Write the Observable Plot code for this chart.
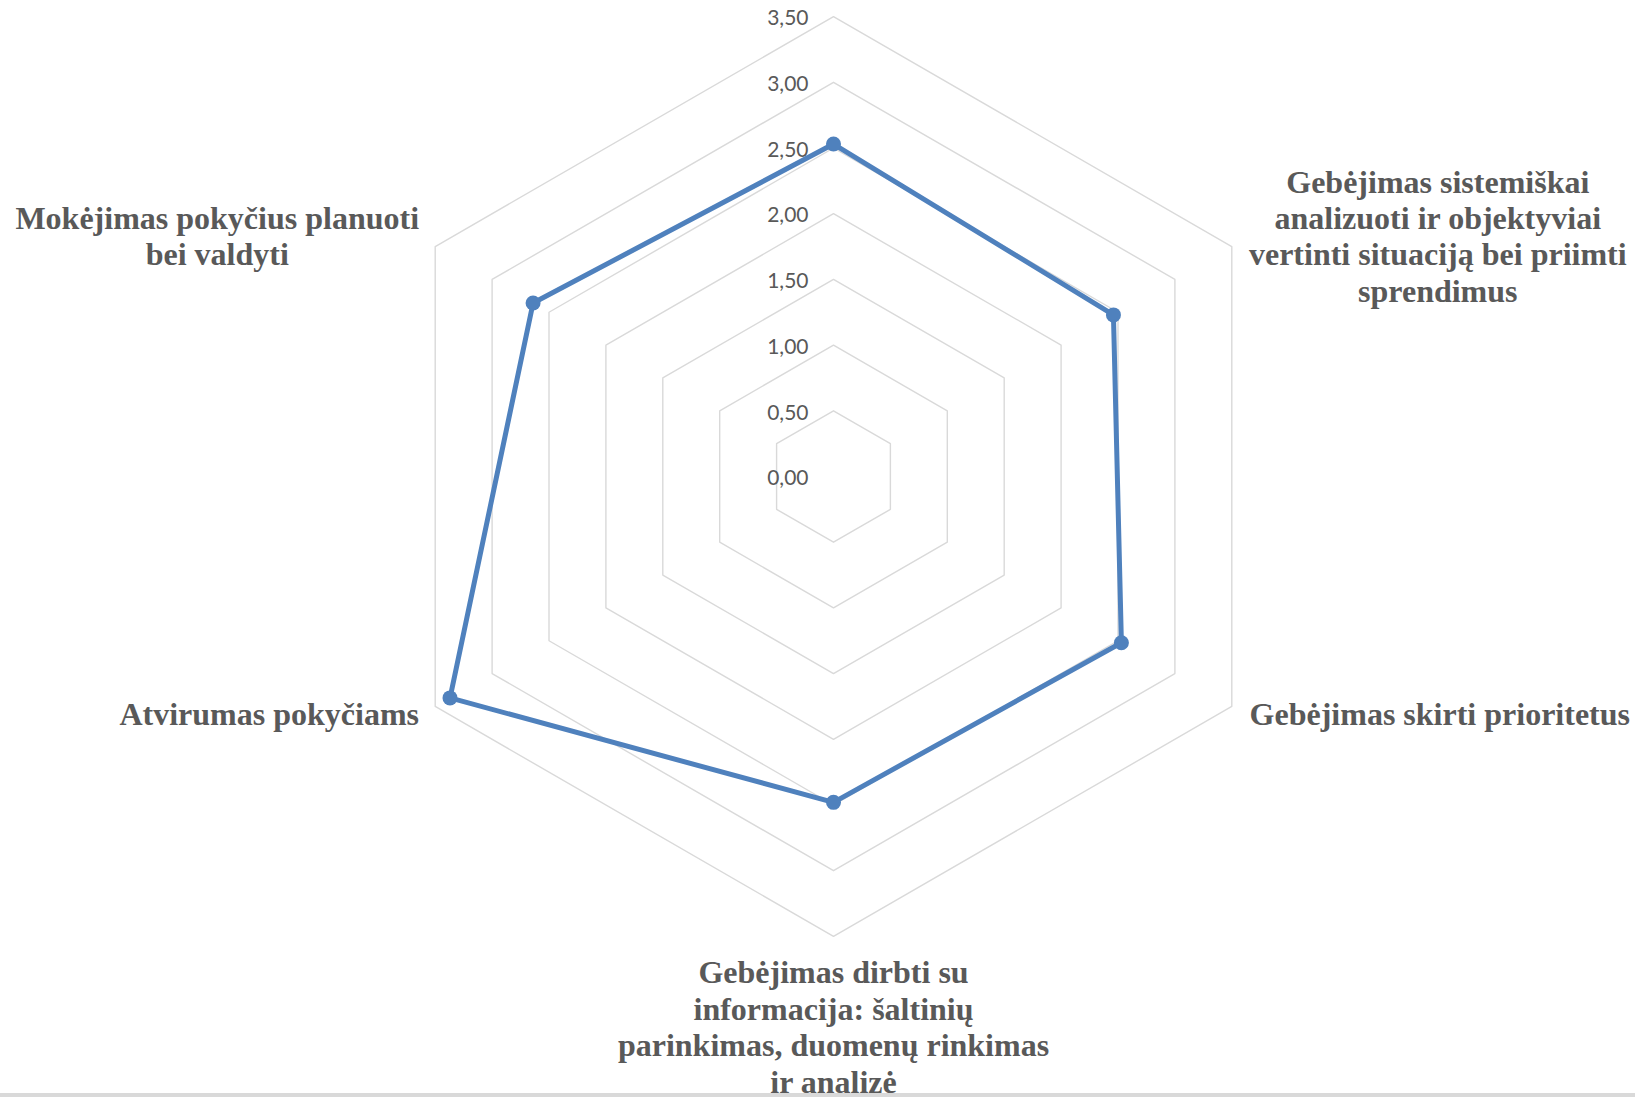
<!DOCTYPE html>
<html><head><meta charset="utf-8">
<script src="https://cdn.jsdelivr.net/npm/d3@7"></script>
<script src="https://cdn.jsdelivr.net/npm/@observablehq/plot@0.6"></script>
<style>
html,body{margin:0;padding:0;background:#fff;overflow:hidden;}
#chart{width:1635px;height:1093px;overflow:hidden;}
#bar{width:1635px;height:4px;background:#d9d9d9;}
</style></head><body>
<div id="chart"></div><div id="bar"></div>
<script>
// ---- data ----
const categories = [
  "",
  "Gebėjimas sistemiškai\nanalizuoti ir objektyviai\nvertinti situaciją bei priimti\nsprendimus",
  "Gebėjimas skirti prioritetus",
  "Gebėjimas dirbti su\ninformacija: šaltinių\nparinkimas, duomenų rinkimas\nir analizė",
  "Atvirumas pokyčiams",
  "Mokėjimas pokyčius planuoti\nbei valdyti"
];
const values = [2.53, 2.46, 2.53, 2.48, 3.37, 2.64];
const ticks = [0, 0.5, 1, 1.5, 2, 2.5, 3, 3.5];
const tickLabels = ["0,00", "0,50", "1,00", "1,50", "2,00", "2,50", "3,00", "3,50"];

// ---- layout (styling only) ----
const U = 131.4;           // pixels per unit
const CX = 833, CY = 476;  // chart centre in pixels
const labelOffsets = [[0, -40], [206, -11], [208, 7], [0, 90], [-166, 7], [-218, -11]];
const maxR = d3.max(ticks);
const n = categories.length;
const ang = i => (i * 2 * Math.PI) / n;
const px = (r, i) => r * Math.sin(ang(i));
const py = (r, i) => r * Math.cos(ang(i));

const grid = ticks.filter(t => t > 0).flatMap(t => categories.map((c, i) => ({t, x: px(t, i), y: py(t, i)})));
const series = values.map((v, i) => ({i, v, x: px(v, i), y: py(v, i)}));
const tickData = ticks.map((t, k) => ({t, label: tickLabels[k]}));
const labelData = categories.map((c, i) => ({c, i, x: px(maxR, i), y: py(maxR, i)}));

const labelMarks = labelData.filter(d => d.c !== "").map(d => Plot.text([d], {
  x: "x", y: "y", text: "c",
  dx: labelOffsets[d.i][0], dy: labelOffsets[d.i][1],
  textAnchor: "middle", lineAnchor: "middle", lineHeight: 1.14,
  fontFamily: "Liberation Serif, Times New Roman, serif", fontWeight: "bold",
  fontSize: 32, fill: "#595959"
}));

const chart = Plot.plot({
  width: 1635, height: 1093, margin: 0,
  x: {type: "linear", domain: [-1, 1], range: [CX - U, CX + U], axis: null},
  y: {type: "linear", domain: [-1, 1], range: [CY + U, CY - U], axis: null},
  style: {background: "#fff", overflow: "hidden"},
  marks: [
    Plot.line(grid, {x: "x", y: "y", z: "t", curve: "linear-closed", stroke: "#d9d9d9", strokeWidth: 1.4}),
    Plot.text(tickData, {x: () => 0, y: "t", text: "label", textAnchor: "end", lineAnchor: "middle", dx: -25, dy: 2,
      fontFamily: "Lato, Carlito, sans-serif", fontSize: 21, fill: "#595959"}),
    Plot.line(series, {x: "x", y: "y", curve: "linear-closed", stroke: "#4f81bd", strokeWidth: 5, strokeLinejoin: "round"}),
    Plot.dot(series, {x: "x", y: "y", r: 7.5, fill: "#4f81bd", stroke: "none"}),
    ...labelMarks
  ]
});
document.getElementById("chart").appendChild(chart);
</script>
</body></html>
